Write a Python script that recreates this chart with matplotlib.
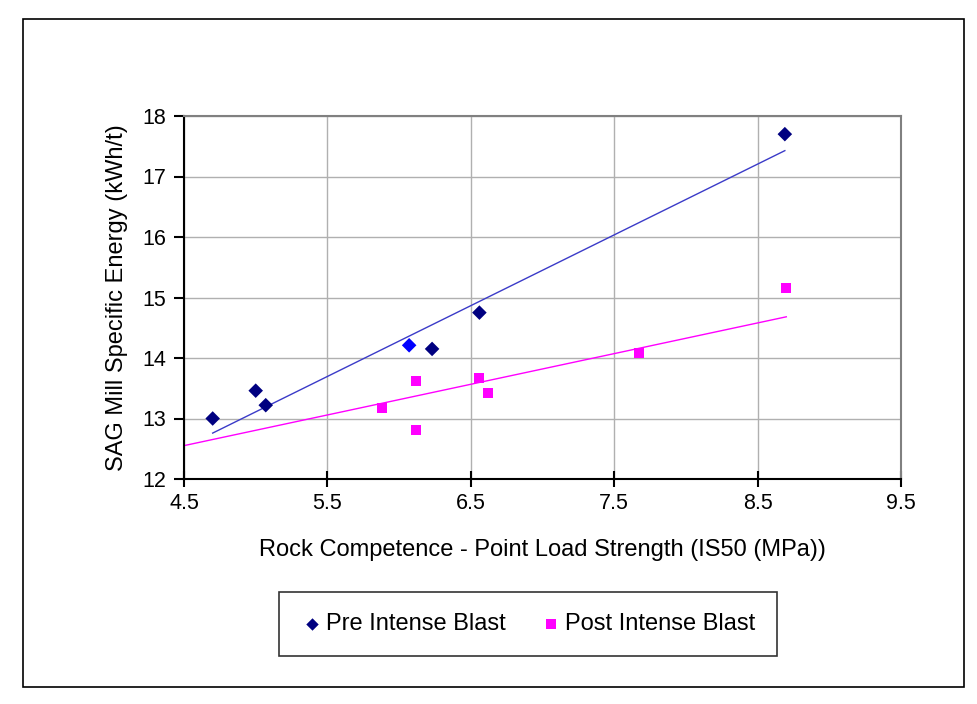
import numpy as np
import matplotlib
matplotlib.use("Agg")
from matplotlib import pyplot as plt
from matplotlib.patches import Rectangle

plt.rcParams['font.family'] = ['Liberation Sans', 'DejaVu Sans']

# data
pre_x = [4.70, 5.00, 5.07, 6.07, 6.23, 6.56, 8.69]
pre_y = [13.00, 13.46, 13.22, 14.21, 14.15, 14.75, 17.70]
post_x = [5.88, 6.12, 6.12, 6.56, 6.62, 7.67, 8.70]
post_y = [13.18, 13.62, 12.81, 13.67, 13.42, 14.08, 15.15]

# trend lines as drawn in the chart (slope, intercept)
pre_trend = [1.170, 7.26]
post_trend = [0.507, 10.27]

x_ticks = [4.5, 5.5, 6.5, 7.5, 8.5, 9.5]
y_ticks = [12, 13, 14, 15, 16, 17, 18]

fig = plt.figure(figsize=(9.77, 7.04), dpi=100)
fig.patches.append(Rectangle((23/977, 1-687/704), (964-23)/977, (687-19)/704,
                             transform=fig.transFigure, fill=False,
                             edgecolor='black', linewidth=1.2))
ax = fig.add_axes([184/977, 1-479/704, (901-184)/977, (479-116)/704])

xs1 = np.array([min(pre_x), max(pre_x)])
ax.plot(xs1, np.polyval(pre_trend, xs1), color='#3b3bc8', linewidth=1, zorder=2)
xs2 = np.array([4.5, max(post_x)])
ax.plot(xs2, np.polyval(post_trend, xs2), color='#ff00ff', linewidth=1, zorder=2)

pre_colors = ['#000080'] * len(pre_x)
pre_colors[3] = '#0000ff'
ax.scatter(pre_x, pre_y, marker='D', s=55, c=pre_colors, zorder=3,
           linewidths=0)
ax.scatter(post_x, post_y, marker='s', s=62, c='#ff00ff', zorder=3,
           linewidths=0)

ax.set_xlim(4.5, 9.5)
ax.set_ylim(12, 18)
ax.set_xticks(x_ticks)
ax.set_yticks(y_ticks)
ax.set_xticklabels([str(v) for v in x_ticks])
ax.grid(True, color='#b0b0b0', linewidth=1)
ax.set_axisbelow(True)
ax.tick_params(axis='x', direction='inout', length=12, width=1.5,
               labelsize=15.5, pad=4)
ax.tick_params(axis='y', direction='out', length=7, width=1.5,
               labelsize=15.5, pad=6)
for s in ['left', 'bottom']:
    ax.spines[s].set_color('black')
    ax.spines[s].set_linewidth(1.5)
for s in ['top', 'right']:
    ax.spines[s].set_color('#808080')
    ax.spines[s].set_linewidth(1.5)

ax.set_xlabel('Rock Competence - Point Load Strength (IS50 (MPa))',
              fontsize=17, labelpad=18)
ax.set_ylabel('SAG Mill Specific Energy (kWh/t)', fontsize=17, labelpad=10)

h1 = ax.scatter([], [], marker='D', s=40, c='#000080', linewidths=0)
h2 = ax.scatter([], [], marker='s', s=50, c='#ff00ff', linewidths=0)
leg = fig.legend([h1, h2], ['Pre Intense Blast', 'Post Intense Blast'],
                 loc='center', bbox_to_anchor=((283+773)/2/977, 1-624/704),
                 ncol=2, fontsize=17, frameon=True, fancybox=False,
                 edgecolor='black', handletextpad=0.1, columnspacing=1.4,
                 borderpad=0.9, handlelength=1.0)
leg.get_frame().set_linewidth(1.2)

plt.savefig('out.png', dpi=100)
